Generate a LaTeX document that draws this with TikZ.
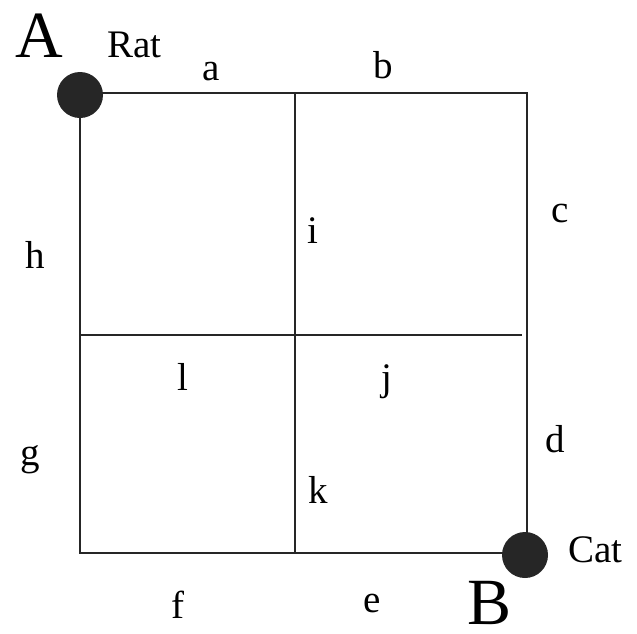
\documentclass[tikz,border=0pt]{standalone}
\usepackage{fontspec}
\setmainfont{Liberation Serif}
\begin{document}
\begin{tikzpicture}[x=0.5pt,y=-0.5pt,
  edge/.style={line width=1.1pt,black!85},
  dot/.style={circle,fill=black!85,minimum size=23pt,inner sep=0pt},
  lbl/.style={inner sep=0pt,anchor=base,font=\fontsize{19.5}{20}\selectfont},
  big/.style={inner sep=0pt,anchor=base west,font=\fontsize{33}{34}\selectfont}]
\useasboundingbox (0,0) rectangle (637,633);
% grid corners
\coordinate (TL) at (80,93);
\coordinate (TM) at (295,93);
\coordinate (TR) at (527,93);
\coordinate (ML) at (80,335);
\coordinate (MM) at (295,335);
\coordinate (MR) at (522,335);
\coordinate (BL) at (80,553);
\coordinate (BM) at (295,553);
\coordinate (BR) at (527,553);
\draw[edge] (TL) -- (TR) -- (BR) -- (BL) -- cycle;
\draw[edge] (TM) -- (BM);
\draw[edge] (ML) -- (MR);
\node[dot] (rat) at (80,95) {};
\node[dot] (cat) at (525,555) {};
% labels
\node[big] (A) at (15,57) {A};
\node[big] (B) at (467,624) {B};
\node[lbl,anchor=base west] (ratl) at (107,57) {Rat};
\node[lbl,anchor=base west] (catl) at (568,562) {Cat};
\node[lbl] (a) at (211,80) {a};
\node[lbl] (b) at (383,78) {b};
\node[lbl] (c) at (560,222) {c};
\node[lbl] (d) at (555,452) {d};
\node[lbl] (e) at (372,612) {e};
\node[lbl] (f) at (178,618) {f};
\node[lbl] (g) at (30,465) {g};
\node[lbl] (h) at (35,268) {h};
\node[lbl] (i) at (313,243) {i};
\node[lbl] (j) at (387,390) {j};
\node[lbl] (k) at (318,503) {k};
\node[lbl] (l) at (183,390) {l};
\end{tikzpicture}
\end{document}
